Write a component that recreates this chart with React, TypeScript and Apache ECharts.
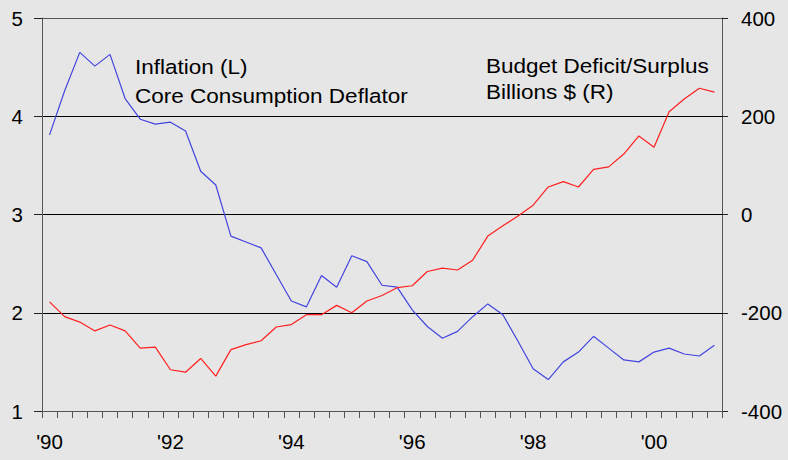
import React, { useEffect, useRef } from "react";
import * as echarts from "echarts";

const quarters = [
  "1990Q1","1990Q2","1990Q3","1990Q4",
  "1991Q1","1991Q2","1991Q3","1991Q4",
  "1992Q1","1992Q2","1992Q3","1992Q4",
  "1993Q1","1993Q2","1993Q3","1993Q4",
  "1994Q1","1994Q2","1994Q3","1994Q4",
  "1995Q1","1995Q2","1995Q3","1995Q4",
  "1996Q1","1996Q2","1996Q3","1996Q4",
  "1997Q1","1997Q2","1997Q3","1997Q4",
  "1998Q1","1998Q2","1998Q3","1998Q4",
  "1999Q1","1999Q2","1999Q3","1999Q4",
  "2000Q1","2000Q2","2000Q3","2000Q4",
  "2001Q1",
];

const inflation = [
  3.81, 4.26, 4.65, 4.51, 4.63, 4.18, 3.97, 3.92, 3.94, 3.85,
  3.44, 3.30, 2.78, 2.72, 2.66, 2.39, 2.12, 2.06, 2.38, 2.26,
  2.58, 2.52, 2.28, 2.26, 2.03, 1.86, 1.74, 1.81, 1.96, 2.09,
  1.98, 1.71, 1.43, 1.32, 1.50, 1.60, 1.76, 1.64, 1.52, 1.50,
  1.60, 1.64, 1.58, 1.56, 1.67,
];

const deficit = [
  -178, -208, -219, -237, -225, -237, -272, -270, -316, -321,
  -293, -329, -275, -265, -257, -229, -224, -204, -204, -185,
  -200, -176, -165, -149, -145, -116, -109, -113, -93, -44,
  -23, -3, 19, 56, 67, 56, 92, 97, 123, 160,
  137, 209, 235, 257, 249,
];

const yearLabels: Record<string, string> = {
  "1990Q1": "'90",
  "1992Q1": "'92",
  "1994Q1": "'94",
  "1996Q1": "'96",
  "1998Q1": "'98",
  "2000Q1": "'00",
};

const legendLeft = ["Inflation (L)", "Core Consumption Deflator"];
const legendRight = ["Budget Deficit/Surplus", "Billions $ (R)"];

const FONT = "'Liberation Sans', Arial, Helvetica, sans-serif";
const AXIS_GRAY = "#555555";

export default function App() {
  const ref = useRef<HTMLDivElement>(null);

  useEffect(() => {
    if (!ref.current) return;
    const chart = echarts.init(ref.current, null, { renderer: "svg" });
    const textStyle = {
      fontFamily: FONT,
      fontSize: 19.5,
      fill: "#000",
      align: "left",
      verticalAlign: "middle",
    };
    const label = (text: string, x: number, y: number) => ({
      type: "text",
      x,
      y,
      scaleX: 1.155,
      scaleY: 1,
      style: { ...textStyle, text, x: 0, y: 0 },
    });
    chart.setOption({
      animation: false,
      backgroundColor: "#e6e6e6",
      grid: { left: 42, right: 66, top: 18, bottom: 49, containLabel: false },
      xAxis: {
        type: "category",
        data: quarters,
        boundaryGap: true,
        axisLine: {
          show: true,
          onZero: false,
          lineStyle: { color: AXIS_GRAY, width: 1 },
        },
        axisTick: {
          show: true,
          interval: 0,
          length: 7,
          lineStyle: { color: AXIS_GRAY },
        },
        axisLabel: {
          interval: 0,
          margin: 20,
          fontFamily: FONT,
          fontSize: 20.5,
          color: "#000",
          formatter: (v: string) => yearLabels[v] || "",
        },
        splitLine: { show: false },
      },
      yAxis: [
        {
          type: "value",
          position: "left",
          min: 1,
          max: 5,
          interval: 1,
          axisLine: { show: true, lineStyle: { color: AXIS_GRAY, width: 1 } },
          axisTick: { show: true, length: 8, lineStyle: { color: "#222" } },
          axisLabel: {
            margin: 19,
            fontFamily: FONT,
            fontSize: 20.5,
            color: "#000",
          },
          splitLine: {
            show: true,
            lineStyle: {
              color: [AXIS_GRAY, "#000", "#000", "#000", AXIS_GRAY],
              width: 1,
            },
          },
        },
        {
          type: "value",
          position: "right",
          min: -400,
          max: 400,
          interval: 200,
          axisLine: { show: true, lineStyle: { color: AXIS_GRAY, width: 1 } },
          axisTick: { show: true, length: 6, lineStyle: { color: "#222" } },
          axisLabel: {
            margin: 19,
            fontFamily: FONT,
            fontSize: 20.5,
            color: "#000",
          },
          splitLine: { show: false },
        },
      ],
      series: [
        {
          name: "Inflation",
          type: "line",
          yAxisIndex: 0,
          data: inflation,
          symbol: "none",
          lineStyle: { color: "#4444e0", width: 1.2 },
          itemStyle: { color: "#4444e0" },
        },
        {
          name: "Budget",
          type: "line",
          yAxisIndex: 1,
          data: deficit,
          symbol: "none",
          lineStyle: { color: "#ff2020", width: 1.2 },
          itemStyle: { color: "#ff2020" },
        },
      ],
      graphic: [
        label(legendLeft[0], 135, 67),
        label(legendLeft[1], 135, 96.5),
        label(legendRight[0], 486, 66.5),
        label(legendRight[1], 486, 92),
      ],
    });
    return () => chart.dispose();
  }, []);

  return (
    <div
      ref={ref}
      style={{ position: "fixed", left: 0, top: 0, width: 788, height: 460 }}
    />
  );
}
